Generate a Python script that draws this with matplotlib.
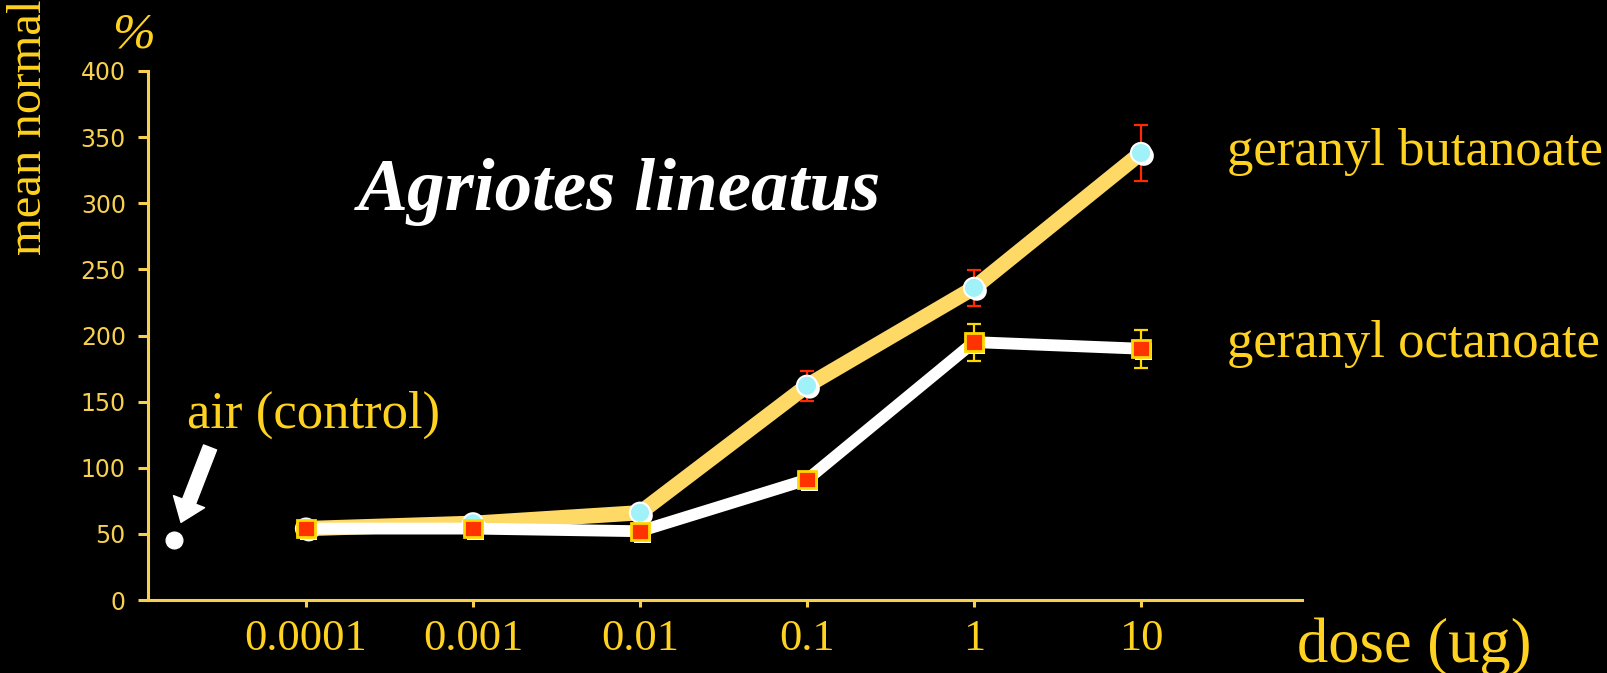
import matplotlib
matplotlib.use("Agg")
import matplotlib.pyplot as plt
import matplotlib.patheffects as pe

# dose (ug) and mean normalized response (%)
doses = [0.0001, 0.001, 0.01, 0.1, 1, 10]
dose_labels = ["0.0001", "0.001", "0.01", "0.1", "1", "10"]

butanoate = [54, 58, 66, 162, 236, 338]
butanoate_err = [3, 3, 4, 11.5, 13.5, 21]

octanoate = [54, 54, 52, 91, 195, 190]
octanoate_err = [3, 3, 3, 4, 14, 14.5]

air_dose = 1.62e-5   # where the control point sits left of the first dose
air_value = 45

yticks = [0, 50, 100, 150, 200, 250, 300, 350, 400]

GOLD = "#FFD21F"
AXIS = "#F7D050"
serif = ["Liberation Serif", "DejaVu Serif"]

fig = plt.figure(figsize=(16.07, 6.73), dpi=100, facecolor="black")
ax = fig.add_axes([148 / 1607, 73 / 673, (1302 - 148) / 1607, (600 - 71) / 673])
ax.set_facecolor("black")

# lines
ax.plot(doses, butanoate, color="#FFD966", lw=11, solid_capstyle="butt", zorder=2)
ax.plot(doses, octanoate, color="white", lw=8.5, solid_capstyle="butt", zorder=3)

# error bars
ax.errorbar(doses, butanoate, yerr=butanoate_err, fmt="none", ecolor="#FF2A00",
            elinewidth=1.6, capsize=5, capthick=1.6, zorder=4)
ax.errorbar(doses, octanoate, yerr=octanoate_err, fmt="none", ecolor="#FFD700",
            elinewidth=1.6, capsize=5, capthick=1.6, zorder=4)

# markers with white drop shadow
shadow = [pe.SimplePatchShadow(offset=(2, -2), shadow_rgbFace="white", alpha=1), pe.Normal()]
ax.plot(doses, butanoate, ls="none", marker="o", ms=14.5, mfc="#A0F2F8", mec="white",
        mew=1.5, zorder=5, path_effects=shadow)
ax.plot(doses, octanoate, ls="none", marker="s", ms=12.5, mfc="#FF3300", mec="#FFD700",
        mew=2, zorder=6, path_effects=shadow)

# air control
ax.plot([air_dose], [air_value], ls="none", marker="o", ms=12, color="white", zorder=5)
ax.annotate("", xy=(air_dose, air_value), xytext=(26, 67), textcoords="offset points",
            arrowprops=dict(arrowstyle="simple,head_length=1.6,head_width=2.4,tail_width=1.0",
                            fc="white", ec="white", shrinkA=0, shrinkB=14,
                            mutation_scale=10))

ax.set_xscale("log")
ax.set_xlim(10 ** -4.946, 10 ** 1.964)
ax.set_ylim(0, 400)
ax.set_xticks(doses)
ax.set_xticklabels(dose_labels)
ax.minorticks_off()
ax.set_yticks(yticks)

for s in ["top", "right"]:
    ax.spines[s].set_visible(False)
for s in ["left", "bottom"]:
    ax.spines[s].set_color(AXIS)
    ax.spines[s].set_linewidth(2.2)

ax.tick_params(axis="y", colors=AXIS, length=7, width=2.2, pad=9, labelsize=17)
ax.tick_params(axis="x", colors=AXIS, length=5, width=2.2, pad=9, labelsize=32,
               labelcolor=GOLD)
for lab in ax.get_xticklabels():
    lab.set_family(serif)
for lab in ax.get_yticklabels():
    lab.set_family("DejaVu Sans")

# texts (the y label runs off the top edge, as in the original slide)
fig.text(133 / 1607, 1 - 35 / 673, "%", color=GOLD, family=serif, style="italic",
         fontsize=37, ha="center", va="center")
fig.text(29 / 1607, 1 - 255 / 673, "mean normalized response", color=GOLD, family=serif,
         fontsize=35, rotation=90, ha="center", va="bottom")
fig.text(620 / 1607, 1 - 210 / 673, "Agriotes lineatus", color="white", family=serif,
         style="italic", weight="bold", fontsize=54, ha="center", va="baseline")
fig.text(1227 / 1607, 1 - 165 / 673, "geranyl butanoate", color=GOLD, family=serif,
         fontsize=38, ha="left", va="baseline")
fig.text(1227 / 1607, 1 - 357 / 673, "geranyl octanoate", color=GOLD, family=serif,
         fontsize=38, ha="left", va="baseline")
fig.text(187 / 1607, 1 - 428 / 673, "air (control)", color=GOLD, family=serif,
         fontsize=38, ha="left", va="baseline")
fig.text(1297 / 1607, 1 - 662 / 673, "dose (ug)", color=GOLD, family=serif,
         fontsize=45, ha="left", va="baseline")

fig.savefig("out.png", dpi=100, facecolor="black")
